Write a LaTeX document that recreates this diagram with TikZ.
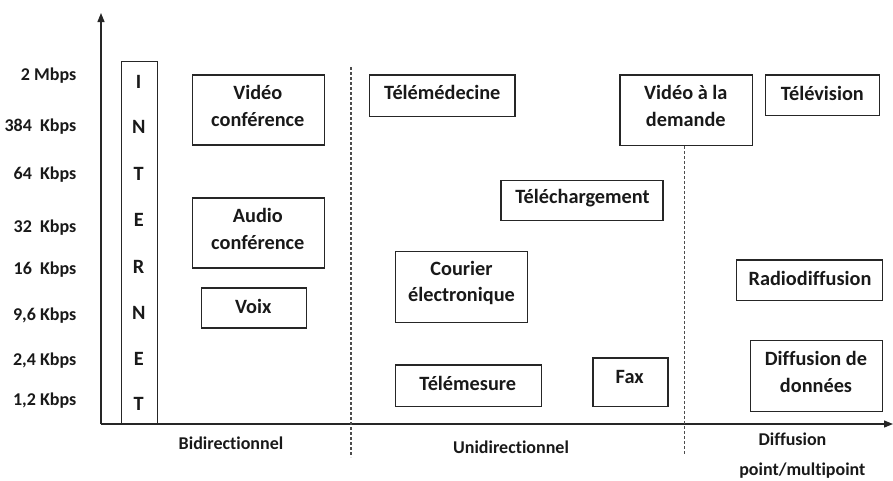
\documentclass[tikz,border=0pt]{standalone}
\usepackage{fontspec}
\setmainfont{Carlito}[Ligatures=NoCommon]
\usetikzlibrary{arrows.meta}

\begin{document}
\begin{tikzpicture}[x=1pt,y=-1pt,
  box/.style={draw=black!85,line width=1.2pt,rectangle,inner sep=0pt,anchor=north west},
  txt/.style={font=\fontsize{20.3}{26.5}\selectfont\bfseries,text=black!90,align=center,inner sep=0pt},
  rate/.style={font=\fontsize{18}{20}\selectfont\bfseries,text=black!90,anchor=east,inner sep=0pt},
  cat/.style={font=\fontsize{18}{20}\selectfont\bfseries,text=black!90,inner sep=0pt},
  axis/.style={draw=black!85,line width=1.2pt,-{Triangle[length=9pt,width=7pt]}},
  sep/.style={draw=black!70,line width=1.1pt,dash pattern=on 3pt off 2pt}]

\useasboundingbox (0,0) rectangle (893,480);

% axes
\coordinate (origin) at (101,424);
\coordinate (ytip) at (101,13);
\coordinate (xtip) at (893,424);
\draw[axis] (origin) -- (ytip);
\draw[axis] (origin) -- (xtip);

% separators between the three categories
\coordinate (s1top) at (351,67);
\coordinate (s1bot) at (351,457);
\draw[sep] (s1top) -- (s1bot);

% bit rate scale
\node[rate] (r1) at (76.5,75.7) {2 Mbps};
\node[rate] (r2) at (76.5,126.7) {384\ \ Kbps};
\node[rate] (r3) at (76.5,175) {64\ \ Kbps};
\node[rate] (r4) at (76.5,227.7) {32\ \ Kbps};
\node[rate] (r5) at (76.5,270) {16\ \ Kbps};
\node[rate] (r6) at (76.5,315.7) {9,6 Kbps};
\node[rate] (r7) at (76.5,360.7) {2,4 Kbps};
\node[rate] (r8) at (76.5,401) {1,2 Kbps};

% INTERNET column
\node[box,minimum width=36pt,minimum height=363.3pt] (inet) at (120.7,60.7) {};
\foreach \l/\y [count=\i] in {I/81.7,N/127,T/174,E/220,R/267,N/313,E/359,T/404}
  \node[txt] (inet\i) at (138.7,\y) {\l};

% Bidirectionnel
\node[box,minimum width=132.3pt,minimum height=70pt] (vidconf) at (191.7,74.3) {};
\node[txt] (vidconf-t) at (257.8,106) {Vidéo\\conférence};
\node[box,minimum width=132.3pt,minimum height=70pt] (audconf) at (191.7,197.3) {};
\node[txt] (audconf-t) at (257.8,229) {Audio\\conférence};
\node[box,minimum width=104.7pt,minimum height=40pt] (voix) at (201,287.3) {};
\node[txt] (voix-t) at (253.3,306) {Voix};

% Unidirectionnel
\node[box,minimum width=145.3pt,minimum height=41.4pt] (telemed) at (369,74.3) {};
\node[txt] (telemed-t) at (442.3,92.7) {Télémédecine};
\node[box,minimum width=132.4pt,minimum height=70.7pt] (vod) at (619.3,74.3) {};
\node[txt] (vod-t) at (685.8,106) {Vidéo à la\\demande};
\node[box,minimum width=162pt,minimum height=40.3pt] (telech) at (500.3,179.7) {};
\node[txt] (telech-t) at (582.5,198.3) {Téléchargement};
\node[box,minimum width=132pt,minimum height=70.7pt] (courier) at (395,251) {};
\node[txt] (courier-t) at (461.5,283) {Courier\\électronique};
\node[box,minimum width=145.7pt,minimum height=41.7pt] (telemes) at (395,364.3) {};
\node[txt] (telemes-t) at (467.8,383.3) {Télémesure};
\node[box,minimum width=75pt,minimum height=48.7pt] (fax) at (592.3,357.3) {};
\node[txt] (fax-t) at (629.7,376.7) {Fax};

% separator below the video on demand box
\coordinate (s2bot) at (684.3,454);
\draw[sep] (vod.south -| s2bot) -- (s2bot);

% Diffusion point/multipoint
\node[box,minimum width=114pt,minimum height=40.7pt] (tele) at (765,74.3) {};
\node[txt] (tele-t) at (822.3,93) {Télévision};
\node[box,minimum width=146pt,minimum height=40.7pt] (radio) at (736,259.3) {};
\node[txt] (radio-t) at (810,278) {Radiodiffusion};
\node[box,minimum width=132.3pt,minimum height=70.7pt] (diff) at (749.7,340) {};
\node[txt] (diff-t) at (816,371.8) {Diffusion de\\données};

% category labels
\node[cat] (c1) at (231,443) {Bidirectionnel};
\node[cat] (c2) at (511,447) {Unidirectionnel};
\node[cat] (c3a) at (792.5,439) {Diffusion};
\node[cat] (c3b) at (802.3,471) {point/multipoint};

\end{tikzpicture}
\end{document}
